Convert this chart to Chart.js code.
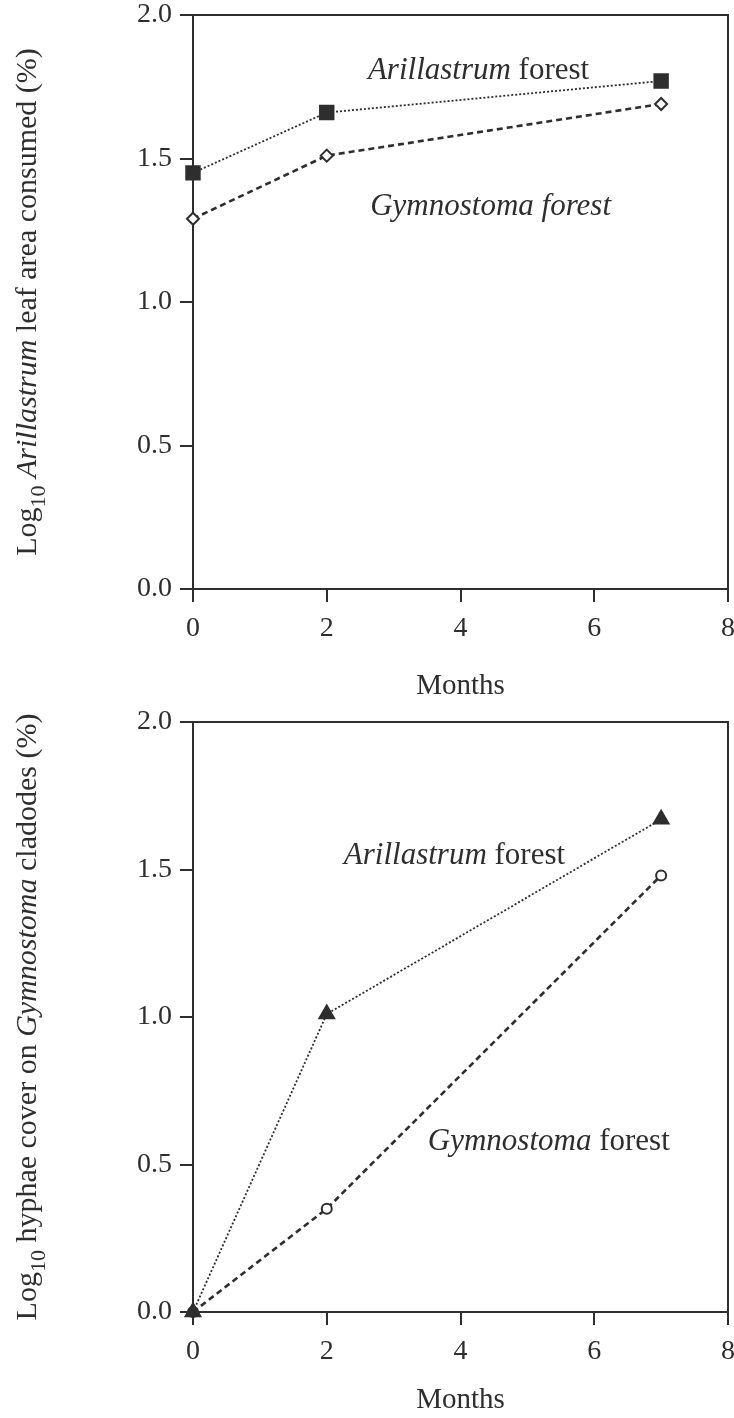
<!DOCTYPE html>
<html>
<head>
<meta charset="utf-8">
<script src="https://cdn.jsdelivr.net/npm/chart.js@4.4.1/dist/chart.umd.min.js"></script>
<style>
  body { margin: 0; background: #fff; }
  .panel { width: 734px; height: 709px; position: relative; }
  canvas { display: block; }
</style>
</head>
<body>
<div class="panel"><canvas id="leafChart" width="734" height="709"></canvas></div>
<div class="panel"><canvas id="hyphaeChart" width="734" height="709"></canvas></div>
<script>
// sampling times (months) and log10 values per forest type
const months = [0, 2, 7];
const leafArillastrum = [1.45, 1.66, 1.77];
const leafGymnostoma = [1.29, 1.51, 1.69];
const hyphaeArillastrum = [0.0, 1.01, 1.67];
const hyphaeGymnostoma = [0.0, 0.35, 1.48];

const monthTicks = [0, 2, 4, 6, 8];
const logTicks = [0.0, 0.5, 1.0, 1.5, 2.0];

const ink = '#2e2e2e';
const serif = '"Liberation Serif", "DejaVu Serif", serif';
const fontSize = 28;
const titleSize = 30;

const points = vals => months.map((m, i) => ({ x: m, y: vals[i] }));

// draw a run of text pieces, some italic, some subscript, centred on (x, y)
function drawRich(ctx, parts, x, y, size) {
  const fontOf = p => (p.i ? 'italic ' : '') + Math.round(p.sub ? size * 0.72 : size) + 'px ' + serif;
  let w = 0;
  parts.forEach(p => { ctx.font = fontOf(p); w += ctx.measureText(p.t).width; });
  let cx = x - w / 2;
  ctx.textAlign = 'left';
  ctx.textBaseline = 'alphabetic';
  ctx.fillStyle = ink;
  parts.forEach(p => {
    ctx.font = fontOf(p);
    ctx.fillText(p.t, cx, y + size * 0.34 + (p.sub ? size * 0.28 : 0));
    cx += ctx.measureText(p.t).width;
  });
}

const decorations = {
  id: 'decorations',
  afterDraw(chart) {
    const { ctx, chartArea: a, scales } = chart;
    const o = chart.options.plugins.decorations;
    ctx.save();
    // top and right edges of the box
    ctx.strokeStyle = ink;
    ctx.lineWidth = 2;
    ctx.beginPath();
    ctx.moveTo(a.left, a.top);
    ctx.lineTo(a.right, a.top);
    ctx.lineTo(a.right, a.bottom);
    ctx.stroke();

    // rotated y-axis title
    ctx.save();
    ctx.translate(o.titleX, (a.top + a.bottom) / 2);
    ctx.rotate(-Math.PI / 2);
    drawRich(ctx, o.yTitle, 0, 0, titleSize);
    ctx.restore();

    // series labels inside the plot
    o.labels.forEach(l => {
      drawRich(ctx, l.parts, scales.x.getPixelForValue(l.x), scales.y.getPixelForValue(l.y), titleSize + 1);
    });
    ctx.restore();
  }
};

function makeChart(id, series, cfg) {
  const axisGrid = {
    drawOnChartArea: false,
    drawTicks: true,
    tickLength: 13,
    tickWidth: 2,
    lineWidth: 2,
    color: ink
  };
  return new Chart(document.getElementById(id), {
    type: 'scatter',
    data: {
      datasets: series.map(s => ({
        data: points(s.values),
        showLine: true,
        borderColor: ink,
        borderWidth: s.lineWidth,
        borderDash: s.dash,
        pointStyle: s.marker,
        pointRadius: s.radius,
        pointBorderWidth: 2,
        pointBackgroundColor: s.fill,
        pointBorderColor: ink,
        clip: false,
        order: s.order
      }))
    },
    options: {
      responsive: false,
      animation: false,
      layout: { autoPadding: false, padding: { top: cfg.top, right: 6, left: 0, bottom: 0 } },
      plugins: {
        legend: { display: false },
        tooltip: { enabled: false },
        decorations: { titleX: 26, yTitle: cfg.yTitle, labels: cfg.labels }
      },
      scales: {
        x: {
          type: 'linear',
          min: 0,
          max: 8,
          afterBuildTicks: s => { s.ticks = monthTicks.map(v => ({ value: v })); },
          afterFit: s => { s.height = cfg.xHeight; s.paddingRight = 0; s.paddingLeft = 0; },
          grid: axisGrid,
          border: { display: true, color: ink, width: 2 },
          ticks: { color: ink, font: { family: serif, size: fontSize }, padding: 10, maxRotation: 0 },
          title: {
            display: true,
            text: 'Months',
            color: ink,
            font: { family: serif, size: fontSize + 1 },
            padding: { top: 0, bottom: cfg.monthsPad }
          }
        },
        y: {
          type: 'linear',
          min: 0,
          max: 2,
          afterBuildTicks: s => { s.ticks = logTicks.map(v => ({ value: v })); },
          afterFit: s => { s.width = 193; s.paddingTop = 0; s.paddingBottom = 0; },
          grid: axisGrid,
          border: { display: true, color: ink, width: 2 },
          ticks: { color: ink, font: { family: serif, size: fontSize }, padding: 8, callback: v => v.toFixed(1) }
        }
      }
    },
    plugins: [decorations]
  });
}

makeChart('leafChart', [
  { values: leafArillastrum, marker: 'rect', radius: 9.5, fill: ink, dash: [2, 2], lineWidth: 1.8, order: 1 },
  { values: leafGymnostoma, marker: 'rectRot', radius: 6, fill: '#fff', dash: [6, 4], lineWidth: 2.6, order: 2 }
], {
  top: 15,
  xHeight: 120,
  monthsPad: 5,
  yTitle: [
    { t: 'Log' }, { t: '10', sub: true }, { t: ' ' },
    { t: 'Arillastrum', i: true }, { t: ' leaf area consumed (%)' }
  ],
  labels: [
    { parts: [{ t: 'Arillastrum', i: true }, { t: ' forest' }], x: 4.27, y: 1.815 },
    { parts: [{ t: 'Gymnostoma forest', i: true }], x: 4.45, y: 1.34 }
  ]
});

makeChart('hyphaeChart', [
  { values: hyphaeArillastrum, marker: 'triangle', radius: 8.5, fill: ink, dash: [2, 2], lineWidth: 1.8, order: 1 },
  { values: hyphaeGymnostoma, marker: 'circle', radius: 5, fill: '#fff', dash: [6, 4], lineWidth: 2.6, order: 2 }
], {
  top: 13,
  xHeight: 106,
  monthsPad: 0,
  yTitle: [
    { t: 'Log' }, { t: '10', sub: true }, { t: ' hyphae cover on ' },
    { t: 'Gymnostoma', i: true }, { t: ' cladodes (%)' }
  ],
  labels: [
    { parts: [{ t: 'Arillastrum', i: true }, { t: ' forest' }], x: 3.91, y: 1.555 },
    { parts: [{ t: 'Gymnostoma', i: true }, { t: ' forest' }], x: 5.32, y: 0.585 }
  ]
});
</script>
</body>
</html>
